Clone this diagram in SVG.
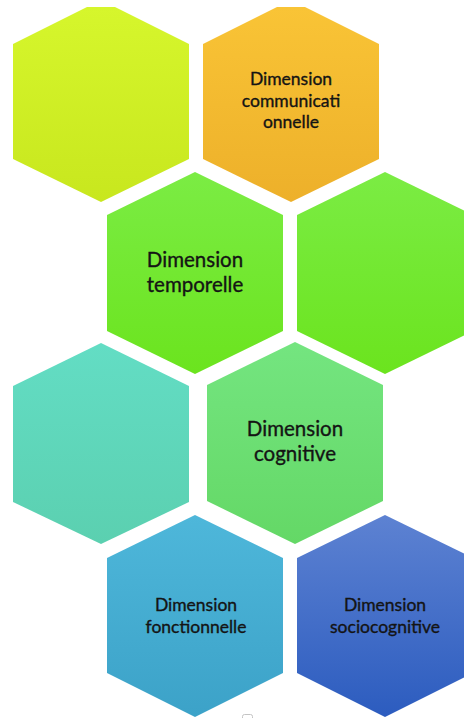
<svg xmlns="http://www.w3.org/2000/svg" width="464" height="718" viewBox="0 0 464 718">
  <style>
    .lbl { font-family: "Lato", "Liberation Sans", sans-serif; fill: #141414; stroke: #141414; stroke-width: 0.35px; text-anchor: middle; }
    .big { font-size: 20.5px; }
    .small { font-size: 17.5px; }
  </style>
  <defs>
    <linearGradient id="gYellow" x1="0" y1="0" x2="0" y2="1">
      <stop offset="0" stop-color="#d6f62c"/><stop offset="1" stop-color="#c8e71e"/>
    </linearGradient>
    <linearGradient id="gOrange" x1="0" y1="0" x2="0" y2="1">
      <stop offset="0" stop-color="#f9c436"/><stop offset="1" stop-color="#edb02a"/>
    </linearGradient>
    <linearGradient id="gGreen" x1="0" y1="0" x2="0" y2="1">
      <stop offset="0" stop-color="#7bec44"/><stop offset="1" stop-color="#6be41e"/>
    </linearGradient>
    <linearGradient id="gTeal" x1="0" y1="0" x2="0" y2="1">
      <stop offset="0" stop-color="#63ddc4"/><stop offset="1" stop-color="#5bd0b0"/>
    </linearGradient>
    <linearGradient id="gMint" x1="0" y1="0" x2="0" y2="1">
      <stop offset="0" stop-color="#74e580"/><stop offset="1" stop-color="#64d866"/>
    </linearGradient>
    <linearGradient id="gSky" x1="0" y1="0" x2="0" y2="1">
      <stop offset="0" stop-color="#4eb7da"/><stop offset="1" stop-color="#3ca2c8"/>
    </linearGradient>
    <linearGradient id="gBlue" x1="0" y1="0" x2="0" y2="1">
      <stop offset="0" stop-color="#5d82d2"/><stop offset="1" stop-color="#2c5cbf"/>
    </linearGradient>
  </defs>

  <g id="hex-yellow">
    <polygon points="87,7 115,7 189,44 189,159 101,202 13,159 13,44" fill="url(#gYellow)"/>
  </g>

  <g id="hex-communicationnelle">
    <polygon points="277,7 305,7 379,44 379,159 291,202 203,159 203,44" fill="url(#gOrange)"/>
    <text class="lbl small" x="291" y="85">Dimension</text>
    <text class="lbl small" x="291" y="107">communicati</text>
    <text class="lbl small" x="291" y="128">onnelle</text>
  </g>

  <g id="hex-temporelle">
    <polygon points="195,172 283,215 283,331 195,374 107,331 107,215" fill="url(#gGreen)"/>
    <text class="lbl big" x="195" y="267">Dimension</text>
    <text class="lbl big" x="195" y="292">temporelle</text>
  </g>

  <g id="hex-green-right">
    <polygon points="385,172 473,215 473,331 385,374 297,331 297,215" fill="url(#gGreen)"/>
  </g>

  <g id="hex-teal">
    <polygon points="101,343 189,386 189,502 101,544 13,502 13,386" fill="url(#gTeal)"/>
  </g>

  <g id="hex-cognitive">
    <polygon points="295,342 383,385 383,501 295,544 207,501 207,385" fill="url(#gMint)"/>
    <text class="lbl big" x="295" y="436">Dimension</text>
    <text class="lbl big" x="295" y="461">cognitive</text>
  </g>

  <g id="hex-fonctionnelle">
    <polygon points="195,515 283,558 283,673 195,717 107,673 107,558" fill="url(#gSky)"/>
    <text class="lbl small" x="196" y="611">Dimension</text>
    <text class="lbl small" x="196" y="633">fonctionnelle</text>
  </g>

  <g id="hex-sociocognitive">
    <polygon points="385,515 473,558 473,673 385,717 297,673 297,558" fill="url(#gBlue)"/>
    <text class="lbl small" x="385" y="611">Dimension</text>
    <text class="lbl small" x="385" y="633">sociocognitive</text>
  </g>

  <g id="connectors"></g>

  <rect x="242.5" y="714.5" width="10" height="8" rx="2" fill="none" stroke="#c4c4c4" stroke-width="1"/>
</svg>
